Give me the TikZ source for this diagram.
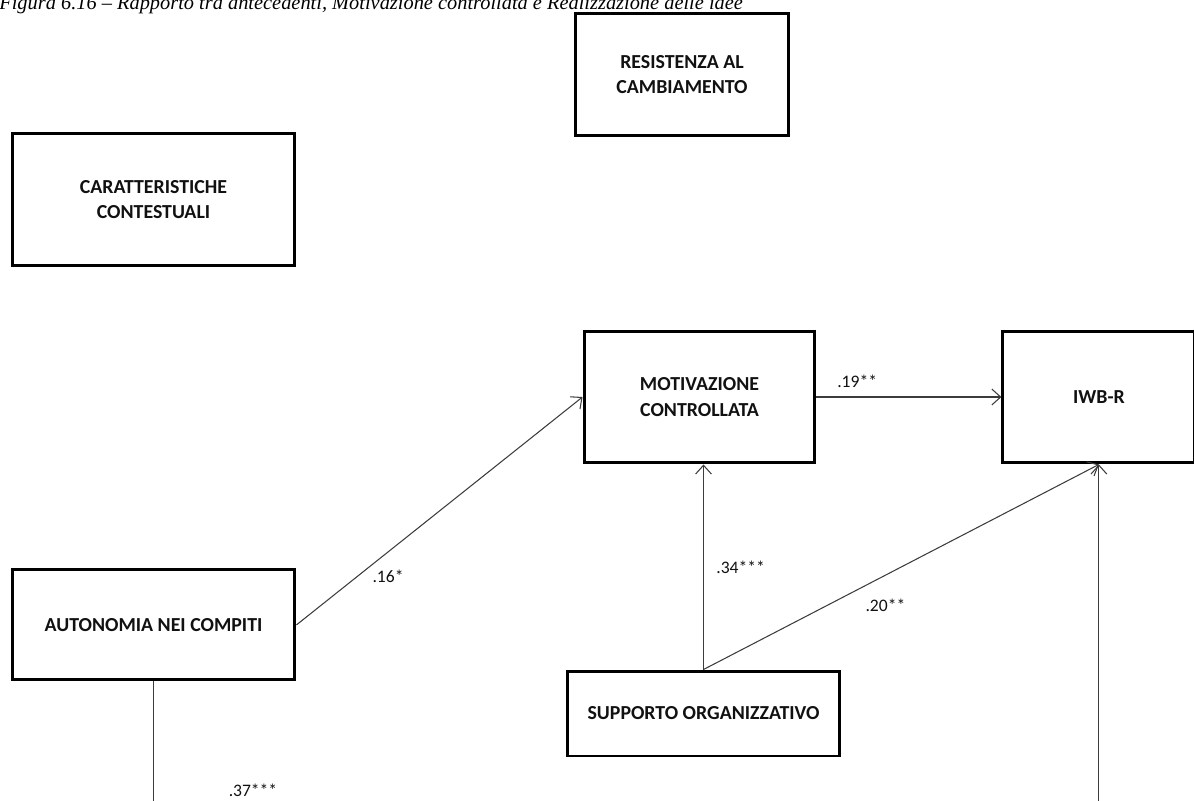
\documentclass[tikz,border=0pt]{standalone}
\usepackage{fontspec}
\setmainfont{Carlito}
\newfontfamily\capfont{Liberation Serif}
\usepackage{tikz}
\usetikzlibrary{arrows.meta,positioning}
\definecolor{rcInk}{HTML}{111111}
\definecolor{rcLine}{HTML}{3C3C3C}
\tikzset{
  vbox/.style={rectangle,draw=black,line width=1.7pt,fill=white,
    align=center,inner sep=0pt,
    font=\fontsize{11.3}{14.5}\selectfont\bfseries,text=rcInk},
  arr/.style={-{Straight Barb[length=5pt,width=9pt]},line width=0.6pt,color=rcLine},
  ln/.style={line width=0.6pt,color=rcLine},
  lbl/.style={font=\fontsize{10}{12}\selectfont,text=rcInk,inner sep=1pt},
  ttl/.style={font=\capfont\itshape\fontsize{11.6}{13}\selectfont,text=black,
    inner sep=0pt,anchor=base west},
}

\begin{document}
\begin{tikzpicture}[x=0.02cm,y=-0.02cm]
  \useasboundingbox (0,0) rectangle (1194,801);
  \node[ttl] (title) at (-1,10)
    {Figura 6.16 – Rapporto tra antecedenti, Motivazione controllata e Realizzazione delle idee};

  \node[vbox,minimum width=4.28cm,minimum height=2.46cm] (resist) at (682,74.5)
    {RESISTENZA AL\\CAMBIAMENTO};
  \node[vbox,minimum width=5.66cm,minimum height=2.66cm] (caratt) at (153.5,199.5)
    {CARATTERISTICHE\\CONTESTUALI};
  \node[vbox,minimum width=4.62cm,minimum height=2.64cm] (motiv) at (699.5,397)
    {MOTIVAZIONE\\CONTROLLATA};
  \node[vbox,right=3.7cm of motiv,minimum width=3.84cm,minimum height=2.64cm] (iwb)
    {IWB-R};
  \node[vbox,below=6.02cm of caratt,minimum width=5.66cm,minimum height=2.2cm] (auton)
    {AUTONOMIA NEI COMPITI};
  \node[vbox,minimum width=5.46cm,minimum height=1.7cm] (supp) at (703.5,713.5)
    {SUPPORTO ORGANIZZATIVO};

  % paths that run off the page
  \coordinate (botEdge) at (0,830);
  \draw[ln] (auton.south) -- (auton.south |- botEdge);
  \draw[arr] (iwb.south |- botEdge) -- (iwb.south);
  \node[lbl] (coefA) at (253,790) {.37***};

  \draw[arr] (auton.east) -- node[lbl,pos=0.32,below=9pt] {.16*} (motiv.west);
  \draw[arr] (motiv.east) -- node[lbl,pos=0.22,above=4pt] {.19**} (iwb.west);
  \draw[arr] (supp.north) -- node[lbl,right=6pt] {.34***} (supp.north |- motiv.south);
  \draw[arr] (supp.north) -- node[lbl,pos=0.46,below=12pt] {.20**} (iwb.south);
\end{tikzpicture}
\end{document}
